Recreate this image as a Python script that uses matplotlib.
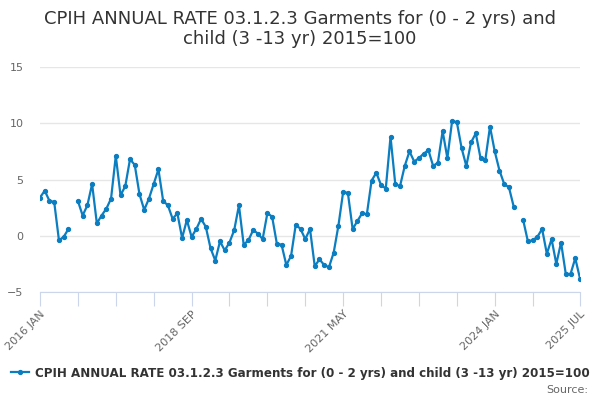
import numpy as np
import matplotlib
matplotlib.use('Agg')
import matplotlib.pyplot as plt

nan = np.nan

# monthly values, 2016 JAN .. 2025 JUL (gaps = no data)
v2016 = [3.4, 4.0, 3.1, 3.0, -0.4, -0.1, 0.6, nan, 3.1, 1.8, 2.7, 4.6]
v2017 = [1.1, 1.8, 2.4, 3.3, 7.1, 3.6, 4.4, 6.8, 6.3, 3.7, 2.3, 3.3]
v2018 = [4.6, 5.9, 3.1, 2.7, 1.5, 2.0, -0.2, 1.4, -0.1, 0.6, 1.5, 0.8]
v2019 = [-1.1, -2.2, -0.5, -1.3, -0.6, 0.5, 2.7, -0.8, -0.4, 0.5, 0.2, -0.3]
v2020 = [2.0, 1.7, -0.7, -0.8, -2.6, -1.8, 1.0, 0.6, -0.3, 0.6, -2.7, -2.1]
v2021 = [-2.6, -2.8, -1.5, 0.9, 3.9, 3.8, 0.6, 1.3, 2.0, 1.9, 4.9, 5.6]
v2022 = [4.5, 4.2, 8.8, 4.6, 4.4, 6.2, 7.5, 6.6, 6.9, 7.3, 7.6, 6.2]
v2023 = [6.5, 9.3, 6.9, 10.2, 10.1, 7.8, 6.2, 8.3, 9.1, 6.9, 6.7, 9.7]
v2024 = [7.5, 5.8, 4.6, 4.3, 2.6, nan, 1.4, -0.5, -0.4, -0.1, 0.6, -1.6]
v2025 = [-0.3, -2.5, -0.6, -3.4, -3.4, -2.0, -3.8]

valores = np.array(v2016 + v2017 + v2018 + v2019 + v2020 + v2021 +
                   v2022 + v2023 + v2024 + v2025)

meses = ['JAN', 'FEB', 'MAR', 'APR', 'MAY', 'JUN',
         'JUL', 'AUG', 'SEP', 'OCT', 'NOV', 'DEC']
etiquetas = ['%d %s' % (2016 + i // 12, meses[i % 12]) for i in range(len(valores))]
x = np.arange(len(valores))

titulo = 'CPIH ANNUAL RATE 03.1.2.3 Garments for (0 - 2 yrs) and\nchild (3 -13 yr) 2015=100'
serie = 'CPIH ANNUAL RATE 03.1.2.3 Garments for (0 - 2 yrs) and child (3 -13 yr) 2015=100'

azul = '#0b7dc1'
gris = '#666666'
eje = '#ccd6eb'

fig = plt.figure(figsize=(6, 4), dpi=100)
ax = fig.add_axes([40/600, 1-292/400, 540/600, 225/400])

ax.plot(x, valores, color=azul, linewidth=1.6, marker='o', markersize=2.8, label=serie)

ax.set_ylim(-5, 15)
ax.set_xlim(0, len(valores) - 1)
ax.set_yticks([-5, 0, 5, 10, 15])
ax.grid(True, axis='y', color='#e6e6e6', linewidth=1)
ax.set_axisbelow(True)

for s in ['top', 'right', 'left']:
    ax.spines[s].set_visible(False)
ax.spines['bottom'].set_color(eje)

# ticks cada 8 meses, etiquetas cada 32
ticks = list(range(0, 105, 8)) + [len(valores) - 1]
ax.set_xticks(ticks)
lab = []
for t in ticks:
    if t % 32 == 0 or t == len(valores) - 1:
        lab.append(etiquetas[t])
    else:
        lab.append('')
ax.set_xticklabels(lab, rotation=45, ha='right', rotation_mode='anchor')
ax.tick_params(axis='x', length=10, color=eje, labelcolor=gris, labelsize=8, pad=2)
ax.tick_params(axis='y', length=0, labelcolor=gris, labelsize=8, pad=12)

fig.suptitle(titulo, x=0.5, y=0.975, fontsize=13, color='#333333', va='top',
             linespacing=1.15)

leg = fig.legend(loc='center', bbox_to_anchor=(0.5, 1-373/400), frameon=False,
                 prop={'weight': 'bold', 'size': 8.6}, handlelength=1.5,
                 handletextpad=0.5, borderaxespad=0)
for t in leg.get_texts():
    t.set_color('#333333')

fig.text(588/600, 1-390/400, 'Source:', ha='right', va='center', fontsize=8, color=gris)

plt.savefig('out.png', dpi=100)
